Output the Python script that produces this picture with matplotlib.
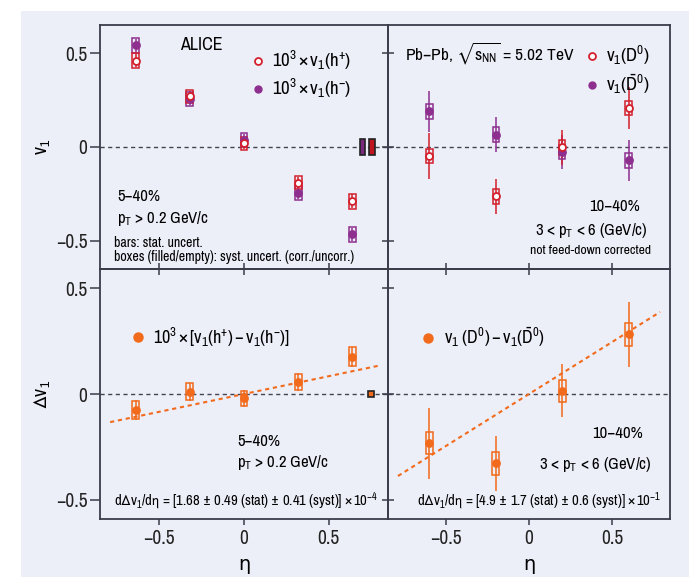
import numpy as np
import matplotlib
matplotlib.use("Agg")
import matplotlib.pyplot as plt
from matplotlib.patches import Rectangle
from matplotlib.lines import Line2D

FONT = 'Archivo Narrow'
plt.rcParams['font.family'] = [FONT, 'Liberation Sans', 'DejaVu Sans']
plt.rcParams['mathtext.fontset'] = 'custom'
plt.rcParams['mathtext.rm'] = FONT
plt.rcParams['mathtext.it'] = FONT
plt.rcParams['mathtext.bf'] = FONT
plt.rcParams['mathtext.fallback'] = 'stixsans'

# charged hadrons, 5-40%
eta_h = [-0.64, -0.32, 0.0, 0.32, 0.64]
v1_hplus = [0.46, 0.27, 0.02, -0.19, -0.288]
v1_hminus = [0.541, 0.256, 0.037, -0.245, -0.465]
stat_hplus = [0.035, 0.03, 0.03, 0.03, 0.035]
stat_hminus = [0.035, 0.03, 0.03, 0.03, 0.035]
syst_hplus = [0.04, 0.035, 0.035, 0.035, 0.04]
syst_hminus = [0.042, 0.035, 0.035, 0.035, 0.04]
corr_syst_h = 0.04

# D0 mesons, 10-40%
eta_d = [-0.6, -0.2, 0.2, 0.6]
v1_d0 = [-0.048, -0.263, -0.002, 0.208]
v1_d0bar = [0.191, 0.065, -0.025, -0.071]
stat_d0 = [0.12, 0.095, 0.093, 0.11]
stat_d0bar = [0.11, 0.094, 0.09, 0.11]
syst_d0 = [0.038, 0.039, 0.038, 0.037]
syst_d0bar = [0.04, 0.04, 0.038, 0.04]

# differences
dv1_h = [-0.075, 0.011, -0.02, 0.058, 0.175]
stat_dv1_h = [0.048, 0.042, 0.04, 0.042, 0.048]
syst_dv1_h = [0.042, 0.039, 0.035, 0.038, 0.045]
corr_syst_dv1_h = 0.0125
slope_h = 0.168

dv1_d = [-0.233, -0.327, 0.016, 0.281]
stat_dv1_d = [0.167, 0.13, 0.125, 0.155]
syst_dv1_d = [0.052, 0.055, 0.052, 0.053]
slope_d = 0.49

RED = '#d3202c'
PURPLE = '#8e2f8f'
ORANGE = '#f26a1b'
SPINE = '#3a3d4a'
BG = '#eceef8'

W, H = 689, 577
fig = plt.figure(figsize=(W / 100, H / 100), dpi=100, facecolor='white')
fig.patches.append(Rectangle((21 / W, 0), 1 - 21 / W, 1 - 11 / H, transform=fig.transFigure,
                             facecolor=BG, edgecolor='none', zorder=-10))


def px_axes(x0, y0, x1, y1):
    return fig.add_axes([x0 / W, 1 - y1 / H, (x1 - x0) / W, (y1 - y0) / H])


ax_tl = px_axes(100, 25, 388, 269)
ax_tr = px_axes(388, 25, 670, 269)
ax_bl = px_axes(100, 269, 388, 519)
ax_br = px_axes(388, 269, 670, 519)

for ax in (ax_tl, ax_tr, ax_bl, ax_br):
    ax.set_facecolor('none')
    ax.set_xlim(-0.85, 0.85)
    for s in ax.spines.values():
        s.set_color(SPINE)
        s.set_linewidth(1.3)
    ax.axhline(0, color='#444450', ls=(0, (3, 2.5)), lw=1, zorder=1)
    ax.set_xticks([-0.5, 0, 0.5])
    ax.tick_params(colors=SPINE, labelcolor='#222222', labelsize=14, width=1.1)

for ax in (ax_tl, ax_tr):
    ax.set_ylim(-0.65, 0.65)
    ax.set_yticks([-0.5, 0, 0.5])
    # ticks crossing the shared horizontal border
    ax.tick_params(axis='x', direction='inout', length=9, labelbottom=False)
for ax in (ax_bl, ax_br):
    ax.set_ylim(-0.59, 0.59)
    ax.set_yticks([-0.5, 0, 0.5])
    ax.tick_params(axis='x', direction='out', length=4, pad=3)
    ax.set_xticklabels(['\u22120.5', '0', '0.5'])
    ax.set_xlabel('\u03b7', fontsize=14, family=['DejaVu Sans'])
    ax.xaxis.set_label_coords(0.5, -0.145)

for ax in (ax_tl, ax_bl):
    ax.tick_params(axis='y', direction='out', length=7, pad=2)
    ax.set_yticklabels(['\u22120.5', '0', '0.5'])
for ax in (ax_tr, ax_br):
    ax.tick_params(axis='y', direction='inout', length=8, labelleft=False)

ax_tl.set_ylabel(r'$\mathrm{v_1}$', fontsize=14)
ax_tl.yaxis.set_label_coords(-0.163, 0.5)
ax_bl.set_ylabel(r'$\mathrm{\Delta v_1}$', fontsize=14)
ax_bl.yaxis.set_label_coords(-0.163, 0.5)


def draw_series(ax, x, y, stat, syst, color, filled, half_w):
    ax.errorbar(x, y, yerr=stat, fmt='none', ecolor=color, elinewidth=1.3, capsize=0, alpha=0.85, zorder=3)
    for xi, yi, si in zip(x, y, syst):
        ax.add_patch(Rectangle((xi - half_w, yi - si), 2 * half_w, 2 * si, facecolor='none',
                               edgecolor=color, lw=1.1, zorder=4))
    ax.plot(x, y, 'o', ms=5, color=color, mfc=color if filled else 'white',
            mec=color, mew=1.3, zorder=5)


# top left
draw_series(ax_tl, eta_h, v1_hminus, stat_hminus, syst_hminus, PURPLE, True, 0.02)
draw_series(ax_tl, eta_h, v1_hplus, stat_hplus, syst_hplus, RED, False, 0.02)
ax_tl.add_patch(Rectangle((0.70 - 0.017, -corr_syst_h), 0.034, 2 * corr_syst_h,
                          facecolor='#7a2a7d', edgecolor='#222222', lw=1.2, zorder=4))
ax_tl.add_patch(Rectangle((0.755 - 0.017, -corr_syst_h), 0.034, 2 * corr_syst_h,
                          facecolor='#c0141f', edgecolor='#222222', lw=1.2, zorder=4))
h_tl = [Line2D([], [], ls='none', marker='o', ms=5, mfc='white', mec=RED, mew=1.3),
        Line2D([], [], ls='none', marker='o', ms=5, mfc=PURPLE, mec=PURPLE)]
ax_tl.legend(h_tl, [r'$\mathrm{10^3 \times v_1(h^{+})}$', r'$\mathrm{10^3 \times v_1(h^{-})}$'],
             loc='upper left', bbox_to_anchor=(0.49, 0.94), frameon=False, fontsize=13.5,
             handlelength=0.8, handletextpad=0.35, borderpad=0, labelspacing=0.28)
ax_tl.text(0.278, 0.918, 'ALICE', transform=ax_tl.transAxes, fontsize=13, va='center')
ax_tl.text(0.059, 0.299, '5\u221240%', transform=ax_tl.transAxes, fontsize=12, va='center')
ax_tl.text(0.059, 0.205, r'$\mathrm{p_T}$ > 0.2 GeV/c', transform=ax_tl.transAxes, fontsize=12, va='center')
ax_tl.text(0.049, 0.107, 'bars: stat. uncert.', transform=ax_tl.transAxes, fontsize=10, va='center')
ax_tl.text(0.049, 0.049, 'boxes (filled/empty): syst. uncert. (corr./uncorr.)',
           transform=ax_tl.transAxes, fontsize=10, va='center')

# top right
draw_series(ax_tr, eta_d, v1_d0bar, stat_d0bar, syst_d0bar, PURPLE, True, 0.019)
draw_series(ax_tr, eta_d, v1_d0, stat_d0, syst_d0, RED, False, 0.019)
ax_tr.legend(h_tl, [r'$\mathrm{v_1(D^0)}$', r'$\mathrm{v_1(\bar{D}^0)}$'],
             loc='upper left', bbox_to_anchor=(0.665, 0.96), frameon=False, fontsize=13.5,
             handlelength=0.8, handletextpad=0.35, borderpad=0, labelspacing=0.28)
ax_tr.text(0.06, 0.885, r'Pb$-$Pb, $\mathrm{\sqrt{s_{NN}}}$ = 5.02 TeV', transform=ax_tr.transAxes,
           fontsize=12.5, va='center')
ax_tr.text(0.805, 0.258, '10\u221240%', transform=ax_tr.transAxes, fontsize=12, va='center', ha='center')
ax_tr.text(0.72, 0.156, r'3 < $\mathrm{p_T}$ < 6 (GeV/c)', transform=ax_tr.transAxes, fontsize=12,
           va='center', ha='center')
ax_tr.text(0.72, 0.074, 'not feed-down corrected', transform=ax_tr.transAxes, fontsize=9.8,
           va='center', ha='center')

# bottom left
fit_x = np.array([-0.79, 0.79])
ax_bl.plot(fit_x, slope_h * fit_x, color=ORANGE, ls=(0, (2, 1.8)), lw=1.5, zorder=2)
draw_series(ax_bl, eta_h, dv1_h, stat_dv1_h, syst_dv1_h, ORANGE, True, 0.02)
ax_bl.add_patch(Rectangle((0.75 - 0.016, -corr_syst_dv1_h), 0.032, 2 * corr_syst_dv1_h,
                          facecolor=ORANGE, edgecolor='#222222', lw=1.2, zorder=4))
h_or = [Line2D([], [], ls='none', marker='o', ms=6.5, mfc=ORANGE, mec=ORANGE)]
ax_bl.legend(h_or, [r'$\mathrm{10^3 \times [v_1(h^{+}) - v_1(h^{-})]}$'],
             loc='upper left', bbox_to_anchor=(0.076, 0.81), frameon=False, fontsize=13,
             handlelength=0.8, handletextpad=0.45, borderpad=0)
ax_bl.text(0.476, 0.308, '5\u221240%', transform=ax_bl.transAxes, fontsize=12, va='center')
ax_bl.text(0.476, 0.224, r'$\mathrm{p_T}$ > 0.2 GeV/c', transform=ax_bl.transAxes, fontsize=12, va='center')
ax_bl.text(0.507, 0.072, r'$\mathrm{d\Delta v_1/d\eta}$ = [1.68 $\pm$ 0.49 (stat) $\pm$ 0.41 (syst)] $\times\,10^{-4}$',
           transform=ax_bl.transAxes, fontsize=10.5, va='center', ha='center')

# bottom right
ax_br.plot(fit_x, slope_d * fit_x, color=ORANGE, ls=(0, (2, 1.8)), lw=1.5, zorder=2)
draw_series(ax_br, eta_d, dv1_d, stat_dv1_d, syst_dv1_d, ORANGE, True, 0.021)
ax_br.legend(h_or, [r'$\mathrm{v_1\ (D^0) - v_1(\bar{D}^0)}$'],
             loc='upper left', bbox_to_anchor=(0.085, 0.81), frameon=False, fontsize=13,
             handlelength=0.8, handletextpad=0.45, borderpad=0)
ax_br.text(0.814, 0.344, '10\u221240%', transform=ax_br.transAxes, fontsize=12, va='center', ha='center')
ax_br.text(0.734, 0.22, r'3 < $\mathrm{p_T}$ < 6 (GeV/c)', transform=ax_br.transAxes, fontsize=12,
           va='center', ha='center')
ax_br.text(0.535, 0.072, r'$\mathrm{d\Delta v_1/d\eta}$ = [4.9 $\pm$ 1.7 (stat) $\pm$ 0.6 (syst)] $\times\,10^{-1}$',
           transform=ax_br.transAxes, fontsize=10.5, va='center', ha='center')

fig.savefig('out.png', dpi=100, facecolor='white')
